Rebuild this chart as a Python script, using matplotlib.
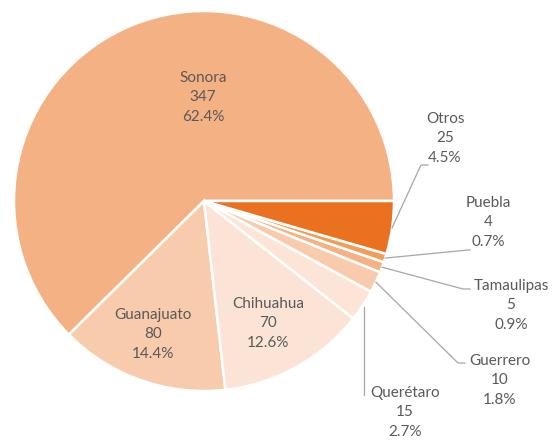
import numpy as np
import matplotlib.pyplot as plt

# Data
estados = ["Sonora", "Guanajuato", "Chihuahua", "Querétaro", "Guerrero",
           "Tamaulipas", "Puebla", "Otros"]
valores = [347, 80, 70, 15, 10, 5, 4, 25]
colores = ["#F4B183", "#F8CBAD", "#FBE4D6", "#FCE4D6", "#F8CBAD",
           "#F4B183", "#F09E5E", "#E97120"]

# pixel layout of the reference (center, radius)
CX, CY, R = 204, 201, 190
W, H = 553, 440


def px(x, y):
    # pixel -> data coords (pie at origin with radius 1)
    return (x - CX) / R, (CY - y) / R


# label centers in pixels (x, y of middle line)
label_pos = {
    "Sonora": (203, 97), "Guanajuato": (153, 334), "Chihuahua": (268, 323),
    "Querétaro": (405, 412), "Guerrero": (500, 380), "Tamaulipas": (511, 305),
    "Puebla": (488, 222), "Otros": (445, 138),
}
# leader line elbow and end (pixels), only for outside labels
leaders = {
    "Otros": [(421, 165), (428, 165)],
    "Puebla": [(468, 250), (470, 250)],
    "Tamaulipas": [(463, 289), (470, 289)],
    "Guerrero": [(458, 363), (465, 363)],
}

fig = plt.figure(figsize=(W / 100, H / 100), dpi=100)
ax = fig.add_axes([0, 0, 1, 1])

wedges, _ = ax.pie(valores, colors=colores, startangle=0, counterclock=True,
                   radius=1, center=(0, 0),
                   wedgeprops=dict(edgecolor="white", linewidth=1.8))

# pie() resets the limits, so set them afterwards
ax.set_xlim(px(0, 0)[0], px(W, 0)[0])
ax.set_ylim(px(0, H)[1], px(0, 0)[1])
ax.set_aspect("equal")
ax.axis("off")

total = sum(valores)
for w, nombre, v in zip(wedges, estados, valores):
    lx, ly = px(*label_pos[nombre])
    ax.text(lx, ly, f"{nombre}\n{v}\n{v / total * 100:.1f}%",
            ha="center", va="center", fontsize=11, color="#595959",
            family="Lato", linespacing=1.5)
    if nombre in leaders:
        ang = np.deg2rad((w.theta1 + w.theta2) / 2)
        xs = [np.cos(ang)] + [px(*p)[0] for p in leaders[nombre]]
        ys = [np.sin(ang)] + [px(*p)[1] for p in leaders[nombre]]
        ax.plot(xs, ys, color="#A6A6A6", linewidth=0.9)

# Querétaro has a plain vertical leader
qx0, qy0 = px(364, 307)
qx1, qy1 = px(364, 395)
ax.plot([qx0, qx1], [qy0, qy1], color="#A6A6A6", linewidth=0.9)

fig.savefig("out.png", dpi=100)
